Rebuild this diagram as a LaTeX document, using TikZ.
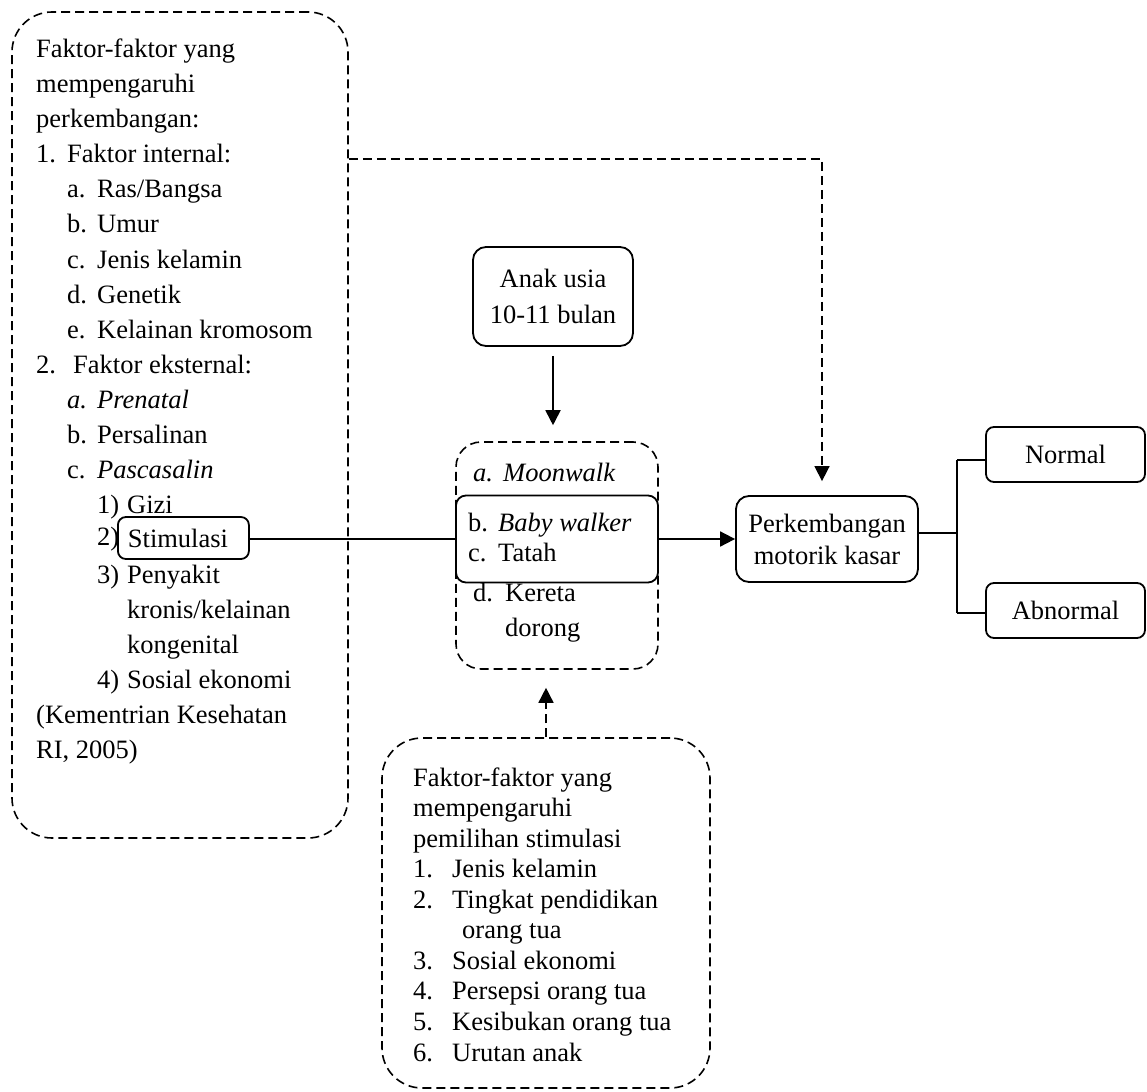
\documentclass[tikz,border=0pt]{standalone}
\usepackage{fontspec}
\setmainfont{Liberation Serif}
\usetikzlibrary{arrows.meta}
\begin{document}
\begin{tikzpicture}[x=1pt,y=-1pt,
  font=\fontsize{26.5}{30}\selectfont,
  txt/.style={inner sep=0pt, anchor=west, text height=18pt, text depth=6pt},
  rbox/.style={draw, line width=1.8pt, fill=white, align=center, inner sep=0pt},
  dbox/.style={draw, line width=1.6pt, dash pattern=on 9pt off 5pt, inner sep=0pt},
  conn/.style={line width=1.8pt},
  arr/.style={line width=1.8pt, -{Triangle[length=15pt,width=15pt]}},
  darr/.style={line width=1.6pt, dash pattern=on 9pt off 5pt, -{Triangle[length=15pt,width=15pt]}}
]
\useasboundingbox (0,0) rectangle (1147,1091);
\fill[white] (0,0) rectangle (1147,1091);

% frames
\node[dbox, rounded corners=40pt, minimum width=336pt, minimum height=826pt] (lbox) at (180,425) {};
\node[dbox, rounded corners=25pt, minimum width=202pt, minimum height=227pt] (mbox) at (557,555.5) {};
\node[rbox, rounded corners=10pt, minimum width=202pt, minimum height=87pt] (ibox) at (557,539) {};
\node[dbox, rounded corners=40pt, minimum width=328pt, minimum height=350pt] (bbox) at (546,913) {};
\node[rbox, rounded corners=13pt, minimum width=160pt, minimum height=99pt, font=\fontsize{26.5}{36}\selectfont] (anak) at (553,296.5) {Anak usia\\10-11 bulan};
\node[rbox, rounded corners=13pt, minimum width=182pt, minimum height=86pt, font=\fontsize{26.5}{32}\selectfont] (perk) at (827,539) {Perkembangan\\motorik kasar};
\node[rbox, rounded corners=8pt, minimum width=159pt, minimum height=55pt] (norm) at (1065.5,454.5) {Normal};
\node[rbox, rounded corners=8pt, minimum width=159pt, minimum height=55pt] (abn) at (1065.5,610.5) {Abnormal};

% left list
\node[txt] (l0) at (36,52) {Faktor-faktor yang};
\node[txt] (l1) at (36,87) {mempengaruhi};
\node[txt] (l2) at (36,122) {perkembangan:};
\node[txt] (l3) at (36,157) {\makebox[31pt][l]{1.}Faktor internal:};
\node[txt] (l4) at (67,192) {\makebox[30pt][l]{a.}Ras/Bangsa};
\node[txt] (l5) at (67,227) {\makebox[30pt][l]{b.}Umur};
\node[txt] (l6) at (67,262) {\makebox[30pt][l]{c.}Jenis kelamin};
\node[txt] (l7) at (67,297) {\makebox[30pt][l]{d.}Genetik};
\node[txt] (l8) at (67,332) {\makebox[30pt][l]{e.}Kelainan kromosom};
\node[txt] (l9) at (36,367) {\makebox[37pt][l]{2.}Faktor eksternal:};
\node[txt] (l10) at (67,402) {\makebox[30pt][l]{\itshape a.}\textit{Prenatal}};
\node[txt] (l11) at (67,437) {\makebox[30pt][l]{b.}Persalinan};
\node[txt] (l12) at (67,472) {\makebox[30pt][l]{c.}\textit{Pascasalin}};
\node[txt] (l13) at (97,507) {\makebox[30pt][l]{1)}Gizi};
\node[txt] (l14) at (97,539) {2)};
\node[txt] (l15) at (97,577) {\makebox[30pt][l]{3)}Penyakit};
\node[txt] (l16) at (127,612) {kronis/kelainan};
\node[txt] (l17) at (127,647) {kongenital};
\node[txt] (l18) at (97,682) {\makebox[30pt][l]{4)}Sosial ekonomi};
\node[txt] (l19) at (36,717) {(Kementrian Kesehatan};
\node[txt] (l20) at (36,752) {RI, 2005)};
\node[rbox, rounded corners=8pt, anchor=west, minimum width=131pt, minimum height=42pt, inner xsep=10pt] (stim) at (117,538) {\makebox[111pt][l]{Stimulasi}};

% middle list
\node[txt] (m1) at (473,475) {\makebox[30pt][l]{\itshape a.}\textit{Moonwalk}};
\node[txt] (m2) at (468,525) {\makebox[30pt][l]{b.}\textit{Baby walker}};
\node[txt] (m3) at (468,555) {\makebox[30pt][l]{c.}Tatah};
\node[txt] (m4) at (473,595) {\makebox[32pt][l]{d.}Kereta};
\node[txt] (m5) at (505,630) {dorong};

% bottom list
\node[txt] (b0) at (413,780) {Faktor-faktor yang};
\node[txt] (b1) at (413,810.6) {mempengaruhi};
\node[txt] (b2) at (413,841.1) {pemilihan stimulasi};
\node[txt] (b3) at (413,871.7) {\makebox[39pt][l]{1.}Jenis kelamin};
\node[txt] (b4) at (413,902.2) {\makebox[39pt][l]{2.}Tingkat pendidikan};
\node[txt] (b5) at (462,932.8) {orang tua};
\node[txt] (b6) at (413,963.4) {\makebox[39pt][l]{3.}Sosial ekonomi};
\node[txt] (b7) at (413,993.9) {\makebox[39pt][l]{4.}Persepsi orang tua};
\node[txt] (b8) at (413,1024.5) {\makebox[39pt][l]{5.}Kesibukan orang tua};
\node[txt] (b9) at (413,1055) {\makebox[39pt][l]{6.}Urutan anak};

% connectors
\coordinate (c1) at (822,159);
\coordinate (br) at (957,533);
\coordinate (bt) at (957,460);
\coordinate (bb) at (957,613);
\draw[conn] (stim.east |- ibox.west) -- (ibox.west);
\draw[arr] (ibox.east) -- (ibox.east -| perk.west);
\draw[arr, shorten <=9pt, shorten >=16pt] (anak.south) -- (anak.south |- mbox.north);
\draw[darr, shorten >=18pt] (bbox.north) -- (bbox.north |- mbox.south);
\draw[darr, shorten >=14pt] (c1 -| lbox.east) -- (c1) -- (c1 |- perk.north);
\draw[conn] (br -| perk.east) -- (br);
\draw[conn] (bt) -- (bb);
\draw[conn] (bt) -- (bt -| norm.west);
\draw[conn] (bb) -- (bb -| abn.west);
\end{tikzpicture}
\end{document}
